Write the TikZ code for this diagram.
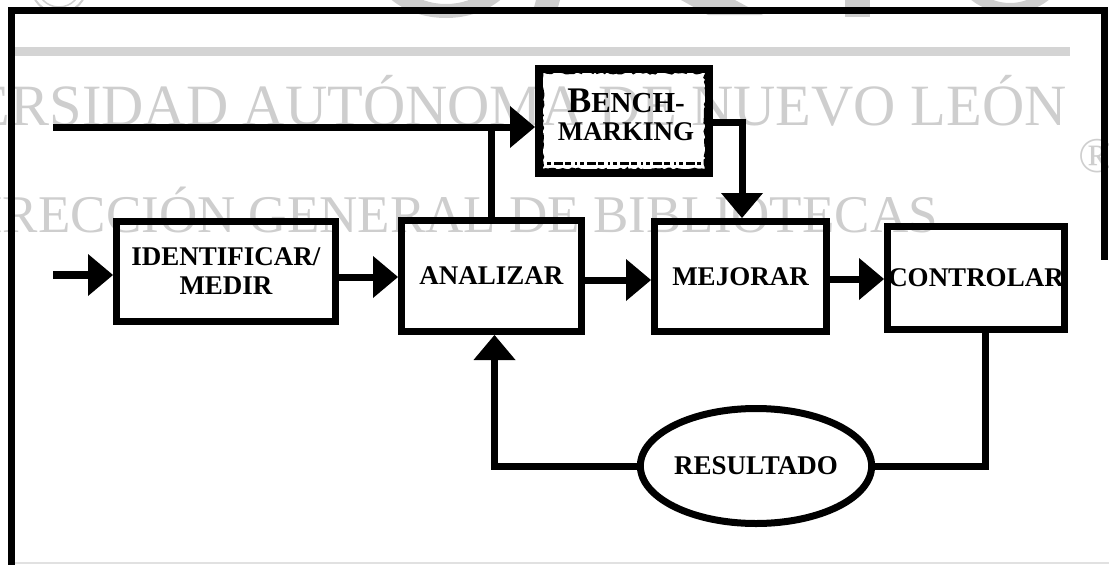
\documentclass[tikz,border=0pt]{standalone}
\usepackage{fontspec}
\setmainfont{Liberation Serif}
\usetikzlibrary{arrows.meta,shapes.geometric,decorations.pathmorphing}
\definecolor{wmgray}{RGB}{206,206,206}
\definecolor{bargray}{RGB}{212,212,212}
\newcommand\stagefont{\fontsize{27}{29}\selectfont\bfseries}
\tikzset{
  link/.style={line width=7pt},
  flow/.style={line width=7pt,-{Triangle[length=25pt,width=42pt,line width=0pt]}},
  stage/.style={draw,rectangle,line width=7pt,inner sep=0pt,align=center,font=\stagefont},
  wmtext/.style={text=wmgray,inner sep=0pt}
}
\begin{document}
\begin{tikzpicture}[x=1pt,y=-1pt]
\useasboundingbox (0,0) rectangle (1109,565);
\begin{scope}
  \clip (0,0) rectangle (1109,565);
  % faint watermark of the library stamp
  \begin{scope}
    \clip (0,0) rectangle (1109,20);
    \fill[wmgray,even odd rule] (446,-40) ellipse [x radius=75,y radius=58]
                                 (446,-40) ellipse [x radius=55,y radius=44];
    \fill[wmgray] (536,0) -- (560,0) -- (557,11) -- (533,11) -- cycle;
    \fill[wmgray] (681,0) -- (735,0) -- (763,15) -- (708,15) -- cycle;
    \fill[wmgray] (845,0) rectangle (870,17);
    \fill[wmgray,even odd rule] (1010,-30) ellipse [x radius=54,y radius=43]
                                 (1010,-30) ellipse [x radius=40,y radius=33];
    \draw[wmgray,line width=2pt] (59,-15) circle [radius=28];
    \draw[wmgray,line width=1.5pt] (59,-15) circle [radius=22];
  \end{scope}
  \fill[bargray] (10,47) rectangle (1070,56);
  \node[wmtext,anchor=base east] (wmA) at (1067,125)
    {\fontsize{58.5}{60}\selectfont UNIVERSIDAD AUTÓNOMA DE NUEVO LEÓN};
  \node[wmtext,anchor=base east] (wmB) at (938,232)
    {\fontsize{53}{55}\selectfont DIRECCIÓN GENERAL DE BIBLIOTECAS};
  \node[wmtext] (wmR) at (1097,156) {\fontsize{50}{50}\selectfont ®};
  \draw[bargray!70,line width=1.5pt] (10,563) -- (1109,563);

  % outer frame
  \draw[line width=7pt,line join=miter] (11,565) -- (11,10) -- (1104,10) -- (1104,260);

  % process stages
  \node[stage,minimum width=219pt,minimum height=100pt] (ident) at (226,271.5) {IDENTIFICAR/\\MEDIR};
  \node[stage,minimum width=180pt,minimum height=111pt] (anal) at (491.5,276) {ANALIZAR};
  \node[stage,minimum width=172pt,minimum height=110pt] (mej) at (740.5,276.5) {\raisebox{-4pt}{MEJORAR}};
  \node[stage,minimum width=177pt,minimum height=103pt] (con) at (976,278) {\raisebox{-3pt}{CONTROLAR}};
  \node[draw,ellipse,line width=7pt,inner sep=0pt,minimum width=229pt,minimum height=115pt,font=\stagefont] (res) at (756,466) {\raisebox{-2pt}{RESULTADO}};

  % benchmarking box with its worn border
  \node[draw,rectangle,line width=8pt,inner sep=0pt,minimum width=170pt,minimum height=104pt] (bench) at (624,121) {};
  \pgfmathsetseed{11}
  \draw[line width=2.5pt,decorate,decoration={random steps,segment length=3pt,amplitude=1.4pt}]
    ([shift={(7,7)}]bench.north west) rectangle ([shift={(-7,-7)}]bench.south east);
  \draw[line width=3pt,dash pattern=on 4pt off 3pt on 9pt off 2pt on 6pt off 4pt on 2pt off 3pt]
    ([shift={(12,-14)}]bench.south west) -- ([shift={(-12,-14)}]bench.south east);
  \node[inner sep=0pt,align=center,font=\fontsize{27}{28}\selectfont\bfseries] (benchtext) at (626,115)
    {{\fontsize{36}{28}\selectfont B}{\fontsize{29}{28}\selectfont ENCH-}\\
     MARKING};

  % connectors
  \coordinate (inA) at (53,275);
  \coordinate (inB) at (53,127);
  \coordinate (rowA) at (0,277);
  \coordinate (rowB) at (0,280);
  \coordinate (rowC) at (0,279);
  \coordinate (benchOut) at (0,122);
  \draw[flow,line width=8pt] (inA) -- (inA -| ident.west);
  \draw[flow] (ident.east |- rowA) -- (anal.west |- rowA);
  \draw[flow] (anal.east |- rowB) -- (mej.west |- rowB);
  \draw[flow] (mej.east |- rowC) -- (con.west |- rowC);
  \draw[flow] (inB) -- (inB -| bench.west);
  \draw[link] (anal.north) -- (anal.north |- inB);
  \draw[flow,line join=miter] (bench.east |- benchOut) -| ([xshift=1.5pt]mej.north);
  \draw[flow,line join=miter] (res.west) -| ([xshift=3pt]anal.south);
  \draw[link,line join=miter] (res.east) -| ([xshift=9pt]con.south);
\end{scope}
\end{tikzpicture}
\end{document}
